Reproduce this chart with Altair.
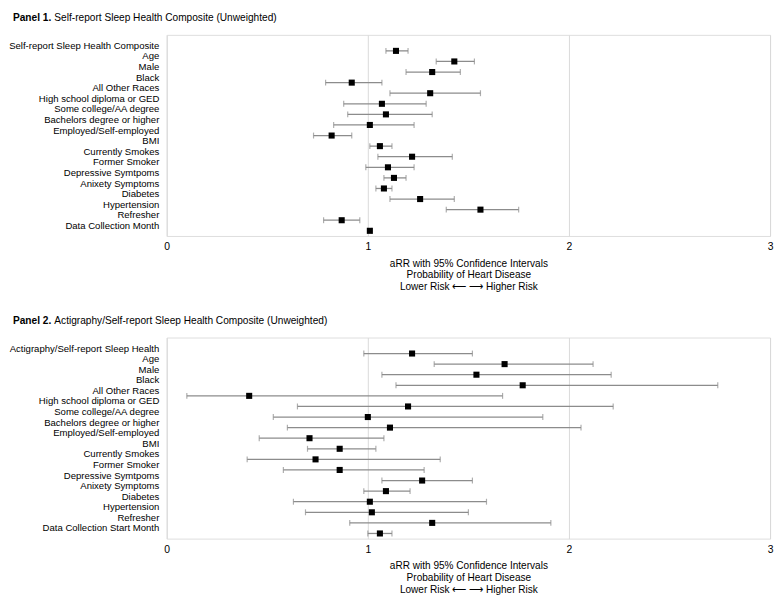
import altair as alt
import pandas as pd

labels1 = ["Self-report Sleep Health Composite", "Age", "Male", "Black", "All Other Races",
           "High school diploma or GED", "Some college/AA degree", "Bachelors degree or higher",
           "Employed/Self-employed", "BMI", "Currently Smokes", "Former Smoker",
           "Depressive Symtpoms", "Anixety Symptoms", "Diabetes", "Hypertension", "Refresher",
           "Data Collection Month"]
est1 = [1.14, 1.43, 1.32, 0.92, 1.31, 1.07, 1.09, 1.01, 0.82, 1.06, 1.22, 1.10, 1.13, 1.08, 1.26, 1.56, 0.87, 1.01]
lo1 = [1.09, 1.34, 1.19, 0.79, 1.11, 0.88, 0.90, 0.83, 0.73, 1.01, 1.05, 0.99, 1.08, 1.04, 1.11, 1.39, 0.78, 1.00]
hi1 = [1.20, 1.53, 1.46, 1.07, 1.56, 1.29, 1.32, 1.23, 0.92, 1.12, 1.42, 1.23, 1.19, 1.12, 1.43, 1.75, 0.96, 1.02]

labels2 = ["Actigraphy/Self-report Sleep Health", "Age", "Male", "Black", "All Other Races",
           "High school diploma or GED", "Some college/AA degree", "Bachelors degree or higher",
           "Employed/Self-employed", "BMI", "Currently Smokes", "Former Smoker",
           "Depressive Symtpoms", "Anixety Symptoms", "Diabetes", "Hypertension", "Refresher",
           "Data Collection Start Month"]
est2 = [1.22, 1.68, 1.54, 1.77, 0.41, 1.20, 1.00, 1.11, 0.71, 0.86, 0.74, 0.86, 1.27, 1.09, 1.01, 1.02, 1.32, 1.06]
lo2 = [0.98, 1.33, 1.07, 1.14, 0.10, 0.65, 0.53, 0.60, 0.46, 0.70, 0.40, 0.58, 1.07, 0.98, 0.63, 0.69, 0.91, 1.00]
hi2 = [1.52, 2.12, 2.21, 2.74, 1.67, 2.22, 1.87, 2.06, 1.08, 1.04, 1.36, 1.28, 1.52, 1.21, 1.59, 1.50, 1.91, 1.12]

title1_bold = "Panel 1."
title1_rest = "Self-report  Sleep Health Composite (Unweighted)"
title2_bold = "Panel 2."
title2_rest = "Actigraphy/Self-report  Sleep Health Composite (Unweighted)"

x_title = ["aRR with 95% Confidence  Intervals", "Probability of Heart Disease",
           "Lower Risk \u27f5 \u27f6 Higher Risk"]
x_ticks = [0, 1, 2, 3]

FONT = "Liberation Sans"
EXT = 157
W = 612
H = 204
OFF = 5.5
BAR = "#8c8c8c"


def panel(labels, est, lo, hi, bold, rest):
    df = pd.DataFrame({"label": labels, "est": est, "lo": lo, "hi": hi})
    y = alt.Y("label:N", sort=labels,
              scale=alt.Scale(type="point", padding=1.45),
              axis=alt.Axis(title=None, ticks=False, domain=False, grid=False,
                            labelPadding=8, labelFontSize=9.7, labelColor="black",
                            labelFont=FONT, minExtent=EXT, maxExtent=EXT, labelLimit=200))
    xaxis = alt.Axis(values=x_ticks, format="d", title=x_title, grid=True, gridColor="#d9d9d9",
                     domain=False, ticks=False, labelFlush=False, labelPadding=6,
                     labelFontSize=10.5, labelColor="black", labelFont=FONT,
                     titleFont=FONT, titleFontSize=10.2, titleFontWeight="normal",
                     titleColor="black", titlePadding=6, titleLineHeight=12)
    xscale = alt.Scale(domain=[0, 3], nice=False, zero=False)
    base = alt.Chart(df)
    rule = base.mark_rule(color=BAR, strokeWidth=1.3, yOffset=OFF).encode(
        x=alt.X("lo:Q", scale=xscale, axis=xaxis), x2="hi:Q", y=y)
    caps = base.transform_fold(["lo", "hi"], as_=["end", "val"]).mark_tick(
        color=BAR, size=6, thickness=1.2, yOffset=OFF).encode(
        x=alt.X("val:Q", scale=xscale), y=y)
    pts = base.mark_square(size=38, color="black", opacity=1, yOffset=OFF).encode(
        x=alt.X("est:Q", scale=xscale), y=y)
    tdf = pd.DataFrame({"b": [bold], "r": [rest]})
    t1 = alt.Chart(tdf).mark_text(align="left", baseline="middle", font=FONT, fontSize=10.3,
                                  fontWeight="bold", color="black").encode(
        x=alt.value(-EXT + 1), y=alt.value(-17), text="b:N")
    t2 = alt.Chart(tdf).mark_text(align="left", baseline="middle", font=FONT, fontSize=10.3,
                                  color="black").encode(
        x=alt.value(-EXT + 43), y=alt.value(-17), text="r:N")
    return alt.layer(rule, caps, pts, t1, t2).properties(width=W, height=H)


chart = alt.vconcat(
    panel(labels1, est1, lo1, hi1, title1_bold, title1_rest),
    panel(labels2, est2, lo2, hi2, title2_bold, title2_rest),
    spacing=22,
).properties(padding=0).configure_view(stroke="#d9d9d9").configure(font=FONT)

chart.save("out.html", embed_options={"renderer": "svg", "actions": False})
